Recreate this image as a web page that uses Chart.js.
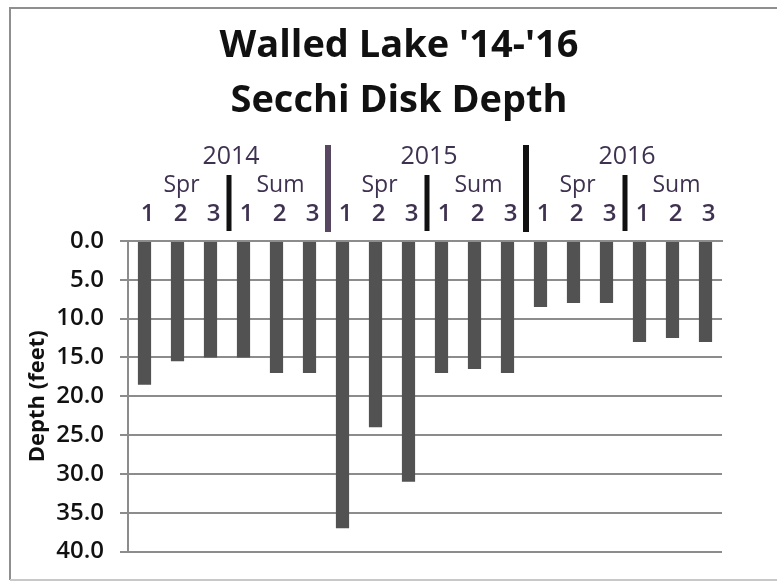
<!DOCTYPE html>
<html>
<head>
<meta charset="utf-8">
<script src="https://cdn.jsdelivr.net/npm/chart.js@4/dist/chart.umd.min.js"></script>
<style>
  html, body { margin: 0; padding: 0; background: #ffffff; }
  canvas { display: block; }
</style>
</head>
<body>
<canvas id="c" width="777" height="582"></canvas>
<script>
// ---- Data ----
const titleLines = ["Walled Lake '14-'16", "Secchi Disk Depth"];
const sampleLabels = ['1','2','3','1','2','3','1','2','3','1','2','3','1','2','3','1','2','3'];
const seasonLabels = ['Spr','Sum','Spr','Sum','Spr','Sum'];
const yearLabels = ['2014','2015','2016'];
const depthFeet = [18.5, 15.5, 15.0, 15.0, 17.0, 17.0, 37.0, 24.0, 31.0, 17.0, 16.5, 17.0, 8.5, 8.0, 8.0, 13.0, 12.5, 13.0];
const yTitle = 'Depth (feet)';

const headerColor = '#3f3250';
const gridColor = '#8c8c8c';

const headerPlugin = {
  id: 'header',
  beforeDraw(chart) {
    const ctx = chart.ctx;
    ctx.save();
    ctx.fillStyle = '#ffffff';
    ctx.fillRect(0, 0, chart.width, chart.height);
    // frame
    ctx.strokeStyle = '#8f8f8f';
    ctx.lineWidth = 2;
    ctx.beginPath();
    ctx.moveTo(10, 580); ctx.lineTo(10, 8); ctx.lineTo(777, 8);
    ctx.stroke();
    ctx.strokeStyle = '#c8c8c8';
    ctx.beginPath();
    ctx.moveTo(10, 580); ctx.lineTo(777, 580);
    ctx.stroke();
    ctx.restore();
  },
  afterDraw(chart) {
    const ctx = chart.ctx;
    const x = chart.scales.x;
    const px = i => x.getPixelForValue(i);
    const shift = 4;
    ctx.save();
    // chart title
    ctx.fillStyle = '#111111';
    ctx.textAlign = 'center';
    ctx.textBaseline = 'alphabetic';
    ctx.font = 'bold 38px "Open Sans"';
    ctx.fillText(titleLines[0], 399, 57);
    ctx.fillText(titleLines[1], 399, 112);

    ctx.fillStyle = headerColor;
    ctx.textBaseline = 'middle';
    // seasons
    ctx.font = '500 23px "Open Sans"';
    seasonLabels.forEach((s, i) => {
      ctx.fillText(s, px(i * 3 + 1) + shift, 185);
    });
    // years
    ctx.font = '500 25px "Open Sans"';
    yearLabels.forEach((y, i) => {
      const cx = (px(i * 6 + 2) + px(i * 6 + 3)) / 2;
      ctx.fillText(y, cx + shift, 157);
    });
    // separators
    const nCat = sampleLabels.length;
    for (let k = 3; k < nCat; k += 3) {
      const bx = (px(k - 1) + px(k)) / 2 + 2;
      const isYear = k % 6 === 0;
      ctx.fillStyle = (isYear && k === 6) ? '#574760' : '#111111';
      if (isYear) {
        ctx.fillRect(bx - 3, 145, 6, 87);
      } else {
        ctx.fillRect(bx - 2.5, 175, 5, 56);
      }
    }
    ctx.restore();
  }
};

new Chart(document.getElementById('c'), {
  type: 'bar',
  data: {
    labels: sampleLabels,
    datasets: [{
      data: depthFeet,
      backgroundColor: '#525252',
      borderWidth: 0,
      categoryPercentage: 1.0,
      barPercentage: 0.4
    }]
  },
  options: {
    responsive: false,
    animation: false,
    devicePixelRatio: 1,
    layout: { padding: { left: 22, right: 55, top: 125, bottom: 13 } },
    plugins: {
      legend: { display: false },
      tooltip: { enabled: false },
      title: { display: false }
    },
    scales: {
      x: {
        position: 'top',
        offset: true,
        grid: { display: false, drawTicks: false },
        border: { display: true, color: gridColor, width: 2 },
        ticks: {
          color: headerColor,
          font: { family: '"Open Sans"', size: 24, weight: '600' },
          padding: 12,
          labelOffset: 3,
          maxRotation: 0,
          autoSkip: false
        },
        afterFit(scale) { scale.height = 116; }
      },
      y: {
        reverse: true,
        min: 0,
        max: 40,
        ticks: {
          stepSize: 5,
          color: '#111111',
          font: { family: '"Open Sans"', size: 24, weight: '600' },
          padding: 16,
          callback: v => Number(v).toFixed(1)
        },
        grid: { color: gridColor, lineWidth: 2, tickLength: 8, drawTicks: true },
        border: { display: true, color: gridColor, width: 2 },
        title: {
          display: true,
          text: yTitle,
          color: '#111111',
          font: { family: '"Open Sans"', size: 22, weight: 'bold' },
          padding: { top: 3, bottom: 0 }
        },
        afterFit(scale) { scale.width = 106; }
      }
    }
  },
  plugins: [headerPlugin]
});
</script>
</body>
</html>
